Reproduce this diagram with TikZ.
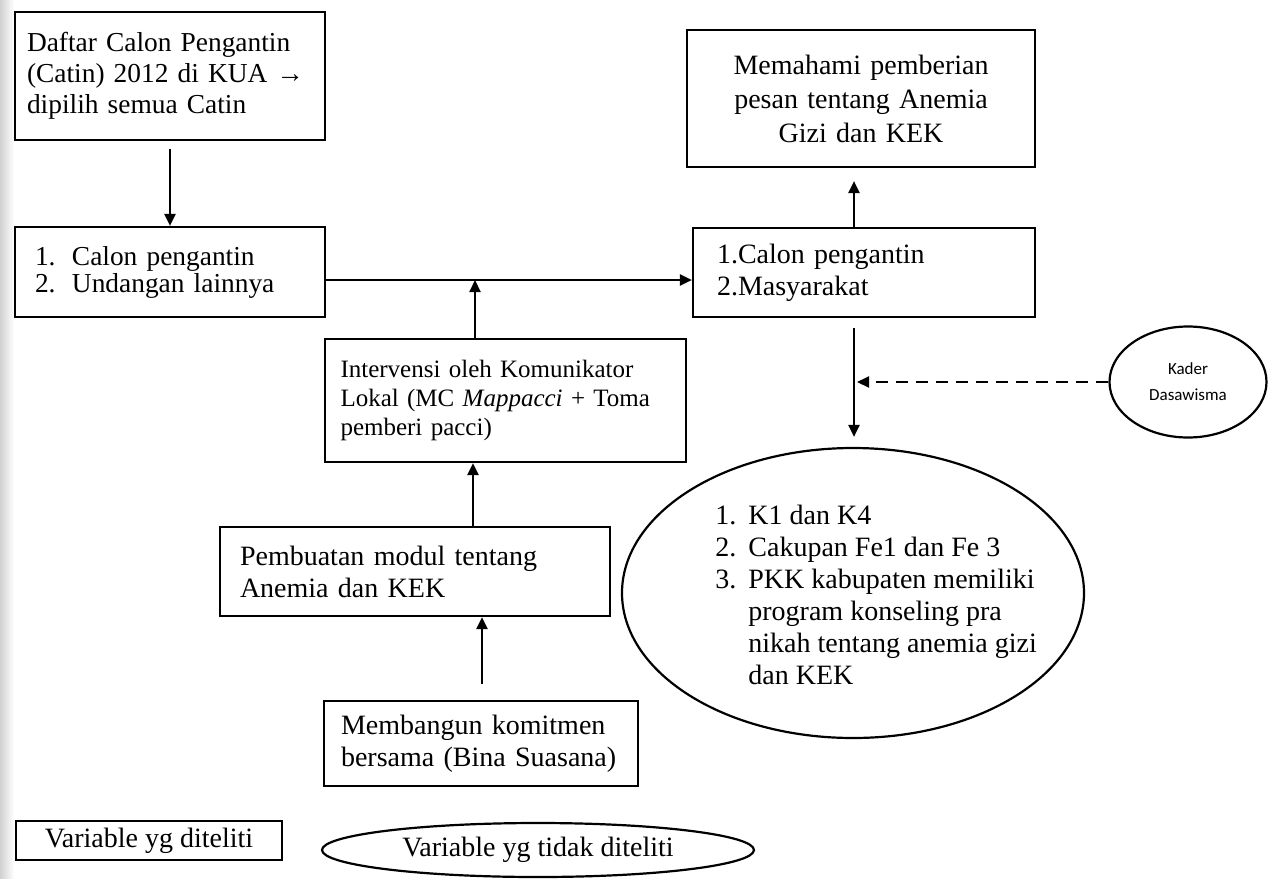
\documentclass[tikz,border=0pt]{standalone}
\usepackage{fontspec}
\setmainfont{Liberation Serif}
\newfontfamily\kaderfont{Carlito}
\usetikzlibrary{arrows.meta,shapes.geometric}
\begin{document}
\begin{tikzpicture}[x=0.5pt,y=-0.5pt,
  box/.style={draw, line width=1.1pt, rectangle, inner sep=0pt, align=left},
  oval/.style={draw, line width=1.1pt, ellipse, inner sep=0pt},
  arr/.style={-{Triangle[length=6pt,width=5.5pt]}, line width=1.1pt},
  dasharr/.style={arr, dash pattern=on 6pt off 4pt},
  font=\fontsize{14pt}{15.5pt}\selectfont]
\def\nr#1{\makebox[18.5pt][l]{#1}}
\def\hr#1{\makebox[16.5pt][l]{#1}}
\useasboundingbox (0,0) rectangle (1268,878);
\shade[left color=black!18, right color=white] (0,0) rectangle (14,878);

% kotak-kotak
\node[box, minimum width=155pt, minimum height=64pt, text width=143pt,
  font=\fontsize{13.7pt}{15.5pt}\selectfont] (daftar) at (170,76)
  {Daftar Calon Pengantin\\ (Catin) 2012 di KUA →\\ dipilih semua Catin};
\node[box, minimum width=155pt, minimum height=45pt, text width=135pt,
  font=\fontsize{13.7pt}{13.5pt}\selectfont] (calon) at (170,272)
  {\nr{1.}Calon pengantin\\ \nr{2.}Undangan lainnya};
\node[box, minimum width=171pt, minimum height=44.5pt, text width=147pt,
  font=\fontsize{14pt}{16pt}\selectfont] (sasaran) at (864,272.5)
  {1.Calon pengantin\\ 2.Masyarakat};
\node[box, minimum width=174pt, minimum height=68.5pt, text width=150pt, align=center,
  font=\fontsize{14pt}{17pt}\selectfont] (paham) at (861,98.5)
  {Memahami pemberian\\ pesan tentang Anemia\\ Gizi dan KEK};
\node[box, minimum width=180.5pt, minimum height=61.5pt, text width=165pt,
  font=\fontsize{12.5pt}{14.3pt}\selectfont] (intervensi) at (505.5,400.5)
  {Intervensi oleh Komunikator\\ Lokal (MC \textit{Mappacci} + Toma\\ pemberi pacci)};
\node[box, minimum width=195pt, minimum height=44.5pt, text width=175pt,
  font=\fontsize{14pt}{16pt}\selectfont] (modul) at (415,571.5)
  {Pembuatan modul tentang\\ Anemia dan KEK};
\node[box, minimum width=157pt, minimum height=42.5pt, text width=140pt,
  font=\fontsize{14pt}{16pt}\selectfont] (komitmen) at (481,743.5)
  {Membangun komitmen\\ bersama (Bina Suasana)};

% elips
\node[oval, minimum width=231pt, minimum height=145pt] (hasil) at (853,593) {};
\node[align=left, anchor=north west, inner sep=0pt,
  font=\fontsize{14pt}{16pt}\selectfont] (hasiltext) at (715,505)
  {\hr{1.}K1 dan K4\\ \hr{2.}Cakupan Fe1 dan Fe 3\\ \hr{3.}PKK kabupaten memiliki\\
   \hr{}program konseling pra\\ \hr{}nikah tentang anemia gizi\\ \hr{}dan KEK};
\node[oval, minimum width=78.5pt, minimum height=55.5pt, align=center,
  font=\kaderfont\fontsize{8.5pt}{13pt}\selectfont] (kader) at (1188,382)
  {Kader\\ Dasawisma};

% keterangan
\node[box, minimum width=133pt, minimum height=19.5pt, align=center] (ket1) at (149,840.5)
  {Variable yg diteliti};
\node[oval, minimum width=216pt, minimum height=27pt] (ket2) at (538,850)
  {Variable yg tidak diteliti};

% panah
\coordinate (j) at (475,280);
\coordinate (fx) at (473,0);
\coordinate (gx) at (482,0);
\coordinate (cx) at (854,0);
\draw[arr, shorten <=4pt] (daftar.south) -- (calon.north);
\draw[arr] (calon.east |- j) -- (sasaran.west |- j);
\draw[arr] (intervensi.north -| j) -- (j);
\draw[arr] (modul.north -| fx) -- (intervensi.south -| fx);
\draw[arr, shorten <=8pt] (komitmen.north -| gx) -- (modul.south -| gx);
\draw[arr, shorten >=6.5pt] (sasaran.north -| cx) -- (paham.south -| cx);
\draw[arr, shorten <=5pt, shorten >=5pt] (sasaran.south -| cx) -- (hasil.north -| cx);
\draw[dasharr, shorten >=1.5pt] (kader.west) -- (kader.west -| cx);

\end{tikzpicture}
\end{document}
